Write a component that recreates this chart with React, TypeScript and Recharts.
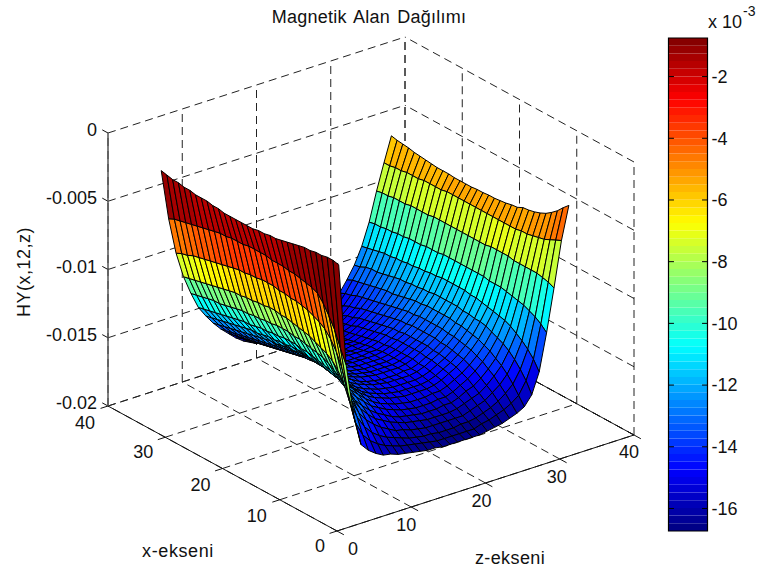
import { ScatterChart, Scatter, XAxis, YAxis, ComposedChart, ReferenceArea, ReferenceLine } from 'recharts'

// grid indices of the surface
const xCells = [1, 2, 3, 4, 5, 6, 7, 8, 9, 10, 11, 12, 13, 14, 15, 16, 17, 18, 19, 20, 21, 22, 23, 24, 25, 26, 27, 28, 29, 30, 31, 32]
const zCells = [1, 2, 3, 4, 5, 6, 7, 8, 9, 10, 11, 12, 13, 14, 15, 16, 17, 18, 19, 20, 21, 22, 23, 24, 25, 26, 27, 28, 29, 30, 31, 32]

// HY values x 1e-3, one row per z cell
const hyRows = [
  [-0.9, -0.8, -0.8, -0.9, -0.9, -1.0, -1.0, -1.1, -1.2, -1.3, -1.4, -1.5, -1.5, -1.6, -1.6, -1.7, -1.7, -1.7, -1.7, -1.7, -1.7, -1.6, -1.6, -1.5, -1.5, -1.5, -1.4, -1.4, -1.3, -1.3, -1.2, -1.1],
  [-8.4, -7.4, -6.3, -5.5, -4.8, -4.3, -4.1, -4.0, -3.9, -3.8, -3.8, -3.7, -3.7, -3.7, -3.6, -3.6, -3.6, -3.6, -3.7, -3.7, -3.7, -3.8, -3.8, -3.9, -4.0, -4.1, -4.2, -4.3, -4.4, -4.5, -4.6, -4.8],
  [-12.2, -10.8, -9.3, -8.3, -7.6, -7.1, -6.8, -6.6, -6.4, -6.3, -6.2, -6.2, -6.1, -6.1, -6.0, -6.0, -6.0, -6.1, -6.1, -6.2, -6.2, -6.3, -6.4, -6.5, -6.6, -6.7, -6.8, -6.9, -7.0, -7.2, -7.3, -7.5],
  [-14.6, -13.2, -11.9, -10.8, -10.1, -9.6, -9.3, -9.1, -8.9, -8.7, -8.6, -8.5, -8.4, -8.3, -8.3, -8.2, -8.2, -8.3, -8.3, -8.4, -8.4, -8.5, -8.5, -8.6, -8.7, -8.8, -8.9, -9.0, -9.1, -9.2, -9.3, -9.4],
  [-15.2, -14.3, -13.2, -12.2, -11.5, -11.0, -10.7, -10.4, -10.2, -10.1, -10.0, -9.9, -9.8, -9.8, -9.7, -9.7, -9.7, -9.8, -9.8, -9.9, -9.9, -10.0, -10.0, -10.1, -10.2, -10.3, -10.4, -10.4, -10.5, -10.6, -10.7, -10.8],
  [-15.6, -14.9, -14.1, -13.3, -12.6, -12.1, -11.8, -11.5, -11.3, -11.2, -11.1, -11.0, -10.9, -10.9, -10.8, -10.8, -10.8, -10.9, -10.9, -11.0, -11.0, -11.1, -11.2, -11.2, -11.3, -11.4, -11.5, -11.6, -11.7, -11.8, -11.9, -12.0],
  [-15.9, -15.3, -14.7, -14.0, -13.4, -13.0, -12.6, -12.3, -12.1, -12.0, -11.9, -11.8, -11.7, -11.7, -11.6, -11.6, -11.6, -11.7, -11.7, -11.8, -11.8, -11.9, -12.0, -12.0, -12.1, -12.2, -12.3, -12.4, -12.5, -12.6, -12.7, -12.8],
  [-16.0, -15.6, -15.1, -14.5, -14.0, -13.6, -13.2, -12.9, -12.7, -12.6, -12.5, -12.4, -12.3, -12.3, -12.2, -12.2, -12.2, -12.3, -12.3, -12.4, -12.5, -12.5, -12.6, -12.7, -12.8, -12.9, -13.0, -13.1, -13.2, -13.3, -13.4, -13.5],
  [-16.2, -15.8, -15.4, -14.9, -14.5, -14.1, -13.7, -13.4, -13.2, -13.1, -13.0, -12.9, -12.8, -12.8, -12.7, -12.7, -12.7, -12.8, -12.8, -12.9, -13.0, -13.1, -13.2, -13.3, -13.4, -13.5, -13.6, -13.7, -13.8, -13.9, -14.0, -14.1],
  [-16.3, -16.0, -15.6, -15.2, -14.8, -14.5, -14.2, -13.9, -13.7, -13.6, -13.5, -13.4, -13.3, -13.3, -13.2, -13.2, -13.2, -13.3, -13.3, -13.4, -13.5, -13.6, -13.7, -13.8, -13.9, -14.0, -14.1, -14.2, -14.3, -14.4, -14.5, -14.6],
  [-16.4, -16.1, -15.8, -15.5, -15.1, -14.8, -14.5, -14.3, -14.1, -14.0, -13.9, -13.8, -13.7, -13.7, -13.6, -13.6, -13.6, -13.7, -13.7, -13.8, -13.9, -14.0, -14.1, -14.2, -14.3, -14.4, -14.5, -14.6, -14.7, -14.8, -14.9, -15.1],
  [-16.5, -16.2, -16.0, -15.6, -15.3, -15.1, -14.8, -14.6, -14.4, -14.3, -14.2, -14.1, -14.0, -14.0, -13.9, -13.9, -13.9, -14.0, -14.0, -14.1, -14.2, -14.3, -14.4, -14.5, -14.6, -14.7, -14.8, -14.9, -15.0, -15.2, -15.3, -15.5],
  [-16.6, -16.3, -16.1, -15.8, -15.5, -15.3, -15.0, -14.8, -14.6, -14.5, -14.4, -14.3, -14.3, -14.2, -14.2, -14.2, -14.2, -14.2, -14.3, -14.4, -14.4, -14.5, -14.6, -14.7, -14.8, -14.9, -15.0, -15.2, -15.3, -15.4, -15.6, -15.8],
  [-16.6, -16.4, -16.2, -15.9, -15.6, -15.4, -15.2, -15.0, -14.8, -14.7, -14.6, -14.5, -14.5, -14.4, -14.4, -14.4, -14.4, -14.4, -14.5, -14.6, -14.6, -14.7, -14.8, -14.9, -15.0, -15.1, -15.2, -15.3, -15.5, -15.6, -15.8, -16.0],
  [-16.7, -16.5, -16.2, -16.0, -15.7, -15.5, -15.3, -15.1, -14.9, -14.8, -14.7, -14.6, -14.6, -14.5, -14.5, -14.5, -14.5, -14.5, -14.6, -14.7, -14.7, -14.8, -14.9, -15.0, -15.1, -15.2, -15.3, -15.5, -15.6, -15.8, -15.9, -16.1],
  [-16.7, -16.5, -16.3, -16.0, -15.8, -15.6, -15.4, -15.2, -15.0, -14.9, -14.8, -14.7, -14.7, -14.6, -14.6, -14.6, -14.6, -14.6, -14.7, -14.7, -14.8, -14.9, -15.0, -15.1, -15.2, -15.3, -15.4, -15.6, -15.7, -15.9, -16.0, -16.2],
  [-16.7, -16.5, -16.3, -16.0, -15.8, -15.6, -15.4, -15.2, -15.0, -14.9, -14.8, -14.7, -14.7, -14.6, -14.6, -14.6, -14.6, -14.6, -14.7, -14.7, -14.8, -14.9, -15.0, -15.1, -15.2, -15.3, -15.4, -15.6, -15.7, -15.9, -16.0, -16.2],
  [-16.7, -16.5, -16.3, -16.0, -15.8, -15.6, -15.4, -15.2, -15.0, -14.9, -14.8, -14.7, -14.7, -14.6, -14.6, -14.6, -14.6, -14.6, -14.7, -14.7, -14.8, -14.9, -15.0, -15.1, -15.2, -15.3, -15.4, -15.6, -15.7, -15.9, -16.0, -16.2],
  [-16.7, -16.5, -16.2, -16.0, -15.8, -15.5, -15.3, -15.1, -15.0, -14.9, -14.8, -14.7, -14.6, -14.6, -14.6, -14.6, -14.6, -14.6, -14.6, -14.7, -14.8, -14.8, -14.9, -15.0, -15.1, -15.2, -15.4, -15.5, -15.6, -15.8, -16.0, -16.2],
  [-16.7, -16.5, -16.2, -16.0, -15.7, -15.5, -15.3, -15.1, -14.9, -14.8, -14.7, -14.6, -14.6, -14.5, -14.5, -14.5, -14.5, -14.5, -14.6, -14.6, -14.7, -14.8, -14.9, -15.0, -15.1, -15.2, -15.3, -15.4, -15.6, -15.7, -15.9, -16.1],
  [-16.6, -16.3, -16.1, -15.8, -15.5, -15.3, -15.1, -14.9, -14.7, -14.6, -14.5, -14.4, -14.4, -14.3, -14.3, -14.3, -14.3, -14.3, -14.4, -14.4, -14.5, -14.6, -14.7, -14.8, -14.9, -15.0, -15.2, -15.3, -15.4, -15.6, -15.8, -16.0],
  [-16.5, -16.2, -15.9, -15.6, -15.3, -15.0, -14.8, -14.6, -14.4, -14.3, -14.2, -14.1, -14.1, -14.0, -14.0, -14.0, -14.0, -14.0, -14.1, -14.1, -14.2, -14.3, -14.4, -14.5, -14.6, -14.8, -14.9, -15.0, -15.2, -15.3, -15.5, -15.8],
  [-16.4, -16.0, -15.7, -15.4, -15.1, -14.8, -14.5, -14.3, -14.1, -14.0, -13.9, -13.8, -13.8, -13.7, -13.7, -13.7, -13.7, -13.7, -13.8, -13.8, -13.9, -14.0, -14.1, -14.2, -14.3, -14.4, -14.6, -14.7, -14.9, -15.0, -15.2, -15.5],
  [-16.2, -15.8, -15.4, -15.0, -14.7, -14.4, -14.1, -13.9, -13.7, -13.6, -13.5, -13.4, -13.4, -13.3, -13.3, -13.3, -13.3, -13.3, -13.4, -13.4, -13.5, -13.6, -13.7, -13.8, -13.9, -14.0, -14.1, -14.3, -14.4, -14.6, -14.8, -15.0],
  [-16.0, -15.5, -15.0, -14.6, -14.2, -13.9, -13.6, -13.4, -13.2, -13.1, -13.0, -12.9, -12.9, -12.8, -12.8, -12.8, -12.8, -12.8, -12.9, -12.9, -13.0, -13.1, -13.2, -13.3, -13.4, -13.5, -13.6, -13.7, -13.8, -14.0, -14.1, -14.3],
  [-15.7, -15.1, -14.5, -14.0, -13.6, -13.3, -13.0, -12.8, -12.6, -12.5, -12.4, -12.3, -12.3, -12.2, -12.2, -12.2, -12.2, -12.2, -12.3, -12.3, -12.4, -12.5, -12.6, -12.7, -12.7, -12.8, -12.9, -13.0, -13.1, -13.2, -13.3, -13.5],
  [-15.0, -14.2, -13.6, -13.1, -12.7, -12.4, -12.2, -12.0, -11.8, -11.7, -11.7, -11.6, -11.6, -11.5, -11.5, -11.5, -11.5, -11.5, -11.6, -11.6, -11.7, -11.7, -11.8, -11.8, -11.9, -12.0, -12.1, -12.2, -12.2, -12.3, -12.5, -12.6],
  [-13.5, -12.8, -12.3, -11.9, -11.6, -11.3, -11.1, -11.0, -10.9, -10.8, -10.7, -10.6, -10.6, -10.5, -10.5, -10.5, -10.5, -10.5, -10.6, -10.6, -10.7, -10.7, -10.8, -10.8, -10.9, -10.9, -11.0, -11.0, -11.1, -11.2, -11.3, -11.4],
  [-10.8, -10.4, -10.1, -9.9, -9.7, -9.6, -9.5, -9.4, -9.3, -9.3, -9.3, -9.2, -9.2, -9.2, -9.2, -9.2, -9.2, -9.2, -9.2, -9.3, -9.3, -9.3, -9.4, -9.4, -9.4, -9.5, -9.5, -9.6, -9.6, -9.7, -9.7, -9.8],
  [-7.7, -7.5, -7.4, -7.3, -7.3, -7.3, -7.3, -7.3, -7.2, -7.2, -7.2, -7.2, -7.3, -7.3, -7.3, -7.3, -7.3, -7.3, -7.3, -7.3, -7.3, -7.3, -7.4, -7.4, -7.4, -7.4, -7.5, -7.5, -7.5, -7.6, -7.6, -7.7],
  [-4.4, -4.6, -4.8, -5.0, -5.1, -5.2, -5.3, -5.3, -5.4, -5.4, -5.4, -5.4, -5.4, -5.4, -5.4, -5.4, -5.4, -5.4, -5.4, -5.4, -5.4, -5.5, -5.5, -5.5, -5.5, -5.6, -5.6, -5.6, -5.7, -5.7, -5.8, -5.8],
  [-2.0, -2.4, -2.85, -3.2, -3.5, -3.7, -3.85, -3.95, -4.0, -4.2, -4.25, -4.35, -4.4, -4.45, -4.45, -4.5, -4.5, -4.55, -4.55, -4.55, -4.55, -4.5, -4.5, -4.5, -4.45, -4.4, -4.35, -4.3, -4.2, -4.15, -4.1, -4.0],
]

const xTicks = [0, 10, 20, 30, 40]
const zTicks = [0, 10, 20, 30, 40]
const hTicks = [0, -5, -10, -15, -20]
const hTickLabels = ['0', '-0.005', '-0.01', '-0.015', '-0.02']
const colorTicks = [-2, -4, -6, -8, -10, -12, -14, -16]

const C_MIN = -16.73
const C_MAX = -0.75
const LEVELS = 64
const FONT = '"Liberation Sans", Arial, sans-serif'

// orthographic projection of the axes box onto the picture plane
const project = (x: number, z: number, h: number) => ({
  px: 337 - (229 / 40) * x + (297 / 40) * z,
  py: 531 - (125 / 40) * x - (96 / 40) * z - (273 / 20) * (h + 20),
})

const clamp = (v: number) => Math.max(0, Math.min(1, v))
const jet = (t: number) => {
  const r = clamp(Math.min(4 * t - 1.5, -4 * t + 4.5))
  const g = clamp(Math.min(4 * t - 0.5, -4 * t + 3.5))
  const b = clamp(Math.min(4 * t + 0.5, -4 * t + 2.5))
  return `rgb(${Math.round(r * 255)},${Math.round(g * 255)},${Math.round(b * 255)})`
}
const colorOf = (v: number) => {
  const idx = Math.max(0, Math.min(LEVELS - 1, Math.floor(((v - C_MIN) / (C_MAX - C_MIN)) * LEVELS)))
  return jet((idx + 0.5) / LEVELS)
}

// facets back to front, 4 corners each, flat colour from lowest index vertex
const facetCorners: { px: number; py: number }[] = []
const facetFills: string[] = []
for (let j = zCells.length - 2; j >= 0; j--) {
  for (let i = xCells.length - 2; i >= 0; i--) {
    facetCorners.push(
      project(xCells[i], zCells[j], hyRows[j][i]),
      project(xCells[i + 1], zCells[j], hyRows[j][i + 1]),
      project(xCells[i + 1], zCells[j + 1], hyRows[j + 1][i + 1]),
      project(xCells[i], zCells[j + 1], hyRows[j + 1][i]),
    )
    facetFills.push(colorOf(hyRows[j][i]))
  }
}

const seg = (a: number[], b: number[]) => [project(a[0], a[1], a[2]), project(b[0], b[1], b[2])]

const dashedSegments = [
  ...xTicks.flatMap((x) => [...seg([x, 0, -20], [x, 40, -20]), ...seg([x, 40, -20], [x, 40, 0])]),
  ...zTicks.flatMap((z) => [...seg([0, z, -20], [40, z, -20]), ...seg([40, z, -20], [40, z, 0])]),
  ...hTicks.flatMap((h) => [...seg([40, 0, h], [40, 40, h]), ...seg([0, 40, h], [40, 40, h])]),
]
const solidSegments = [
  ...seg([0, 0, -20], [40, 0, -20]),
  ...seg([0, 0, -20], [0, 40, -20]),
  ...seg([0, 40, -20], [40, 40, -20]),
  ...xTicks.flatMap((x) => seg([x, 0, -20], [x, -1, -20])),
  ...zTicks.flatMap((z) => seg([0, z, -20], [-1.2, z, -20])),
  ...hTicks.flatMap((h) => seg([40, 0, h], [41, 0, h])),
]
const zAxisLine = seg([40, 0, -20], [40, 0, 0])

const xLabelOffsets = [[-17, 15], [-23, 16], [-22, 16.5], [-22, 15], [-23, 17]]
const zLabelOffsets = [[16, 18], [-5, 18], [-4, 18], [-3, 18], [-5, 17]]

const tickLabels = [
  ...xTicks.map((x, i) => ({ ...project(x, 0, -20), text: String(x), dx: xLabelOffsets[i][0], dy: xLabelOffsets[i][1], anchor: 'middle' })),
  ...zTicks.map((z, i) => ({ ...project(0, z, -20), text: String(z), dx: zLabelOffsets[i][0], dy: zLabelOffsets[i][1], anchor: 'middle' })),
  ...hTicks.map((h, i) => ({ ...project(40, 0, h), text: hTickLabels[i], dx: -11, dy: -3, anchor: 'end' })),
]

const drawSegments = (stroke: string, dash?: string, width = 1) => (props: any) => {
  const pts = props.points
  const out = []
  for (let i = 0; i + 1 < pts.length; i += 2) {
    out.push(
      <line key={i} x1={pts[i].x} y1={pts[i].y} x2={pts[i + 1].x} y2={pts[i + 1].y} stroke={stroke} strokeWidth={width} strokeDasharray={dash} />,
    )
  }
  return <g>{out}</g>
}

const drawFacets = (props: any) => {
  const pts = props.points
  const out = []
  for (let i = 0; i + 3 < pts.length; i += 4) {
    const d = [pts[i], pts[i + 1], pts[i + 2], pts[i + 3]].map((p: any) => `${p.x},${p.y}`).join(' ')
    out.push(<polygon key={i} points={d} fill={facetFills[i / 4]} stroke="#000" strokeWidth={1} strokeLinejoin="round" />)
  }
  return <g>{out}</g>
}

const noDot = () => null

const tickText = (props: any) => {
  const { cx, cy, payload } = props
  return (
    <text x={cx + payload.dx} y={cy + payload.dy} textAnchor={payload.anchor} dominantBaseline="central" fontSize={18} fontFamily={FONT} fill="#111">
      {payload.text}
    </text>
  )
}

const colorBands = Array.from({ length: LEVELS }, (_, i) => i)
const bandEdge = (i: number) => C_MIN + ((C_MAX - C_MIN) * i) / LEVELS

const textStyle = { fontFamily: FONT, fill: '#111' }

export default function App() {
  return (
    <div style={{ position: 'absolute', left: 0, top: 0, width: 759, height: 571, background: '#fff', overflow: 'hidden' }}>
      <div style={{ position: 'absolute', left: 0, top: 0 }}>
        <ScatterChart width={759} height={571} margin={{ top: 0, right: 0, bottom: 0, left: 0 }}>
          <XAxis type="number" dataKey="px" domain={[0, 759]} hide allowDataOverflow />
          <YAxis type="number" dataKey="py" domain={[0, 571]} reversed hide allowDataOverflow />
          <Scatter data={dashedSegments} line={drawSegments('#222', '8 5')} shape={noDot} isAnimationActive={false} />
          <Scatter data={solidSegments} line={drawSegments('#111')} shape={noDot} isAnimationActive={false} />
          <Scatter data={zAxisLine} line={drawSegments('#555', undefined, 1.5)} shape={noDot} isAnimationActive={false} />
          <Scatter data={facetCorners} line={drawFacets} shape={noDot} isAnimationActive={false} />
          <Scatter data={tickLabels} shape={tickText} isAnimationActive={false} />
        </ScatterChart>
      </div>
      <div style={{ position: 'absolute', left: 660, top: 30 }}>
        <ComposedChart width={99} height={510} margin={{ top: 8, right: 1, bottom: 9, left: 8.5 }}>
          <XAxis type="number" dataKey="v" domain={[0, 1]} hide allowDataOverflow />
          <YAxis
            type="number"
            orientation="right"
            domain={[C_MIN, C_MAX]}
            ticks={colorTicks}
            interval={0}
            width={50.5}
            axisLine={false}
            tickLine={false}
            tickSize={0}
            tickMargin={5}
            tick={{ fontSize: 18, fontFamily: FONT, fill: '#111', dx: -1 }}
            allowDataOverflow
          />
          {colorBands.map((i) => (
            <ReferenceArea
              key={i}
              x1={0}
              x2={1}
              y1={bandEdge(i)}
              y2={bandEdge(i + 1)}
              fill={jet((i + 0.5) / LEVELS)}
              fillOpacity={1}
              stroke="none"
              ifOverflow="visible"
            />
          ))}
          {colorTicks.map((t) => (
            <ReferenceLine key={`l${t}`} segment={[{ x: 0, y: t }, { x: 0.14, y: t }]} stroke="#000" ifOverflow="visible" />
          ))}
          {colorTicks.map((t) => (
            <ReferenceLine key={`r${t}`} segment={[{ x: 0.86, y: t }, { x: 1, y: t }]} stroke="#000" ifOverflow="visible" />
          ))}
          <ReferenceArea x1={0} x2={1} y1={C_MIN} y2={C_MAX} fill="none" stroke="#000" strokeWidth={1.2} ifOverflow="visible" />
        </ComposedChart>
      </div>
      <svg width={759} height={571} style={{ position: 'absolute', left: 0, top: 0, pointerEvents: 'none' }}>
        <text x={369} y={23} textAnchor="middle" fontSize={18} letterSpacing={0.25} wordSpacing={2} {...textStyle}>Magnetik Alan Dağılımı</text>
        <text x={178} y={557} textAnchor="middle" fontSize={18} letterSpacing={0.6} {...textStyle}>x-ekseni</text>
        <text x={510} y={564} textAnchor="middle" fontSize={18} letterSpacing={0.4} {...textStyle}>z-ekseni</text>
        <text x={0} y={0} transform="translate(30,272) rotate(-90)" textAnchor="middle" fontSize={18} letterSpacing={0.5} {...textStyle}>HY(x,12,z)</text>
        <text x={708} y={28} fontSize={18} {...textStyle}>x 10</text>
        <text x={743} y={16} fontSize={14} {...textStyle}>-3</text>
      </svg>
    </div>
  )
}
